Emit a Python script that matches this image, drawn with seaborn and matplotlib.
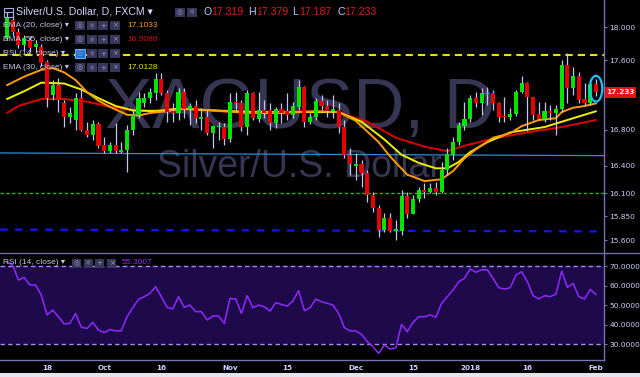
import numpy as np
import pandas as pd
import matplotlib
matplotlib.use("Agg")
import matplotlib.pyplot as plt
import seaborn as sns
from matplotlib.patches import Ellipse, Rectangle
from matplotlib.lines import Line2D
from matplotlib.ticker import FixedLocator, FixedFormatter, NullLocator

# ---------------- data (XAGUSD daily) ----------------
opens = [17.87, 18.09, 17.94, 17.78, 17.84, 17.76, 17.76, 17.58, 17.20, 17.31,
         17.10, 16.94, 16.91, 17.16, 16.80, 16.74, 16.87, 16.63, 16.56, 16.63,
         16.55, 16.57, 16.80, 16.97, 17.10, 17.16, 17.22, 17.38, 17.22, 17.01,
         16.99, 17.23, 17.04, 17.07, 16.92, 16.94, 16.76, 16.83, 16.83, 16.70,
         17.12, 17.10, 16.83, 17.22, 16.92, 17.02, 17.02, 16.88, 17.04, 17.01,
         16.97, 17.06, 17.29, 16.89, 16.94, 17.13, 17.07, 17.01, 17.02, 16.83,
         16.52, 16.40, 16.42, 16.32, 16.08, 15.94, 15.71, 15.83, 15.70, 15.70,
         16.07, 15.88, 16.04, 16.13, 16.11, 16.16, 16.11, 16.35, 16.52, 16.66,
         16.84, 16.92, 17.16, 17.10, 17.21, 17.22, 17.11, 16.96, 16.94, 16.98,
         17.23, 17.33, 17.17, 16.98, 16.92, 17.01, 16.99, 17.04, 17.55, 17.28,
         17.42, 17.15, 17.10, 17.319]
highs = [18.18, 18.15, 17.99, 17.90, 17.89, 17.84, 17.80, 17.61, 17.37, 17.39,
         17.14, 17.06, 17.22, 17.28, 16.89, 16.91, 16.89, 16.72, 16.66, 16.88,
         16.66, 16.85, 17.02, 17.23, 17.22, 17.28, 17.45, 17.45, 17.25, 17.10,
         17.28, 17.28, 17.10, 17.14, 17.05, 17.02, 16.85, 16.89, 16.88, 17.22,
         17.23, 17.14, 17.25, 17.23, 17.23, 17.14, 17.10, 17.06, 17.10, 17.22,
         17.12, 17.37, 17.30, 16.99, 17.16, 17.20, 17.14, 17.20, 17.10, 16.91,
         16.60, 16.54, 16.46, 16.35, 16.11, 15.97, 15.89, 15.89, 15.81, 16.13,
         16.11, 16.08, 16.17, 16.21, 16.21, 16.22, 16.44, 16.60, 16.72, 16.89,
         17.12, 17.20, 17.23, 17.28, 17.29, 17.25, 17.12, 17.17, 17.05, 17.25,
         17.42, 17.35, 17.17, 17.12, 17.12, 17.08, 17.08, 17.61, 17.69, 17.52,
         17.46, 17.34, 17.37, 17.379]
lows = [17.84, 17.89, 17.75, 17.72, 17.70, 17.70, 17.53, 17.06, 17.14, 17.00,
        16.83, 16.88, 16.80, 16.78, 16.72, 16.69, 16.60, 16.54, 16.54, 16.54,
        16.54, 16.33, 16.74, 16.93, 17.06, 17.10, 17.14, 17.20, 16.89, 16.89,
        16.91, 16.93, 16.85, 16.88, 16.80, 16.74, 16.60, 16.69, 16.63, 16.66,
        17.02, 16.78, 16.74, 16.91, 16.89, 16.93, 16.80, 16.82, 16.88, 16.91,
        16.93, 17.02, 16.83, 16.87, 16.91, 17.02, 16.94, 16.93, 16.76, 16.48,
        16.30, 16.24, 16.17, 16.00, 15.90, 15.63, 15.68, 15.68, 15.60, 15.65,
        15.83, 15.87, 16.00, 16.05, 16.10, 16.08, 16.10, 16.30, 16.46, 16.63,
        16.80, 16.89, 17.06, 16.97, 17.08, 17.02, 16.89, 16.89, 16.91, 16.96,
        17.22, 16.78, 16.91, 16.91, 16.89, 16.91, 16.74, 17.00, 17.10, 17.20,
        17.10, 17.08, 17.08, 17.187]
closes = [18.11, 17.94, 17.78, 17.87, 17.75, 17.80, 17.57, 17.16, 17.31, 17.14,
          16.94, 16.99, 17.16, 16.80, 16.74, 16.87, 16.62, 16.56, 16.63, 16.56,
          16.57, 16.80, 16.97, 17.16, 17.16, 17.23, 17.38, 17.22, 17.00, 16.99,
          17.23, 17.04, 17.07, 16.93, 16.94, 16.76, 16.84, 16.84, 16.70, 17.12,
          17.10, 16.83, 17.22, 16.93, 17.02, 16.99, 16.88, 17.04, 16.99, 16.97,
          17.07, 17.29, 16.89, 16.94, 17.13, 17.07, 17.01, 17.04, 16.83, 16.52,
          16.42, 16.42, 16.32, 16.08, 15.94, 15.71, 15.83, 15.69, 15.72, 16.07,
          15.88, 16.04, 16.13, 16.11, 16.16, 16.11, 16.35, 16.53, 16.66, 16.85,
          16.92, 17.16, 17.10, 17.22, 17.22, 17.10, 16.94, 16.94, 16.98, 17.23,
          17.33, 17.17, 16.97, 16.92, 17.01, 16.99, 17.04, 17.55, 17.28, 17.42,
          17.14, 17.10, 17.32, 17.233]

rsi_vals = [72.0, 70.5, 62.8, 64.2, 60.3, 60.3, 55.1, 44.9, 47.4, 44.0,
            40.3, 40.6, 45.7, 38.6, 38.0, 41.1, 37.2, 35.8, 37.5, 36.7,
            36.8, 44.0, 48.6, 52.9, 54.3, 56.0, 59.4, 54.3, 48.8, 48.0,
            54.3, 48.8, 50.0, 46.6, 46.6, 42.3, 44.4, 44.4, 40.6, 53.4,
            53.1, 45.7, 54.8, 48.6, 50.0, 49.1, 46.9, 51.2, 50.3, 49.5,
            52.1, 57.4, 47.1, 48.6, 53.0, 51.7, 50.9, 50.0, 45.7, 38.4,
            36.7, 36.7, 35.0, 31.2, 28.6, 25.2, 29.5, 27.4, 28.1, 40.1,
            36.3, 41.1, 44.0, 44.0, 44.9, 43.7, 50.9, 54.3, 57.7, 62.0,
            63.7, 68.5, 66.8, 68.1, 68.1, 63.7, 58.9, 58.2, 58.9, 65.4,
            67.1, 62.0, 54.8, 53.1, 54.8, 54.3, 55.6, 67.4, 59.1, 61.1,
            54.3, 53.1, 58.0, 55.3]

ema20_idx = [0, 3, 6, 8, 10, 12, 14, 16, 18, 21, 23, 25, 28, 31, 36, 42, 48, 54, 58,
             61, 63, 65, 67, 70, 73, 76, 78, 80, 82, 85, 88, 90, 93, 96, 97, 99, 101, 103]
ema20_vals = [17.31, 17.41, 17.49, 17.51, 17.46, 17.37, 17.23, 17.13, 17.06, 16.97,
              16.96, 16.99, 17.01, 17.04, 17.02, 16.99, 16.99, 17.01, 17.00, 16.90,
              16.78, 16.66, 16.50, 16.30, 16.23, 16.25, 16.34, 16.48, 16.58, 16.71,
              16.76, 16.84, 16.91, 16.93, 17.00, 17.05, 17.07, 17.10]
ema30_idx = [0, 3, 6, 10, 13, 16, 19, 22, 26, 30, 36, 44, 52, 58, 62, 66, 69, 72, 75,
             77, 79, 81, 84, 88, 91, 94, 97, 100, 103]
ema30_vals = [17.15, 17.24, 17.34, 17.33, 17.26, 17.16, 17.07, 17.02, 17.01, 17.04,
              17.02, 17.00, 17.00, 17.00, 16.89, 16.69, 16.52, 16.43, 16.37, 16.37,
              16.44, 16.55, 16.66, 16.77, 16.80, 16.83, 16.89, 16.95, 17.01]
ema55_idx = [0, 2, 6, 10, 14, 18, 22, 26, 30, 34, 40, 46, 52, 58, 63, 68, 73, 77, 80,
             85, 91, 97, 103]
ema55_vals = [16.99, 17.07, 17.15, 17.15, 17.12, 17.06, 17.02, 17.02, 17.04, 17.02,
              17.00, 17.00, 17.01, 17.00, 16.89, 16.71, 16.61, 16.56, 16.62, 16.70,
              16.77, 16.83, 16.91]

price_ticks = [18.0, 17.6, 16.8, 16.4, 16.1, 15.85, 15.6]
price_tick_labels = ["18.000", "17.600", "16.800", "16.400", "16.100", "15.850", "15.600"]
rsi_ticks = [70, 60, 50, 40, 30]
rsi_tick_labels = ["70.0000", "60.0000", "50.0000", "40.0000", "30.0000"]
date_tick_idx = [7, 17, 27, 39, 49, 61, 71, 81, 91, 103]
date_tick_labels = ["18", "Oct", "16", "Nov", "15", "Dec", "15", "2018", "16", "Feb"]

resistance_level = 17.66
support_green = 16.10
blue_line_ends = [16.54, 16.51]
blue_dash_ends = [15.71, 15.69]
last_o, last_h, last_l, last_c = 17.319, 17.379, 17.187, 17.233
ema20_last, ema55_last, ema30_last, rsi_last = "17.1033", "16.9088", "17.0128", "55.3007"

# ---------------- style ----------------
sns.set_theme(style="dark")
plt.rcParams["font.family"] = ["DejaVu Sans"]
plt.rcParams["axes.facecolor"] = "black"
plt.rcParams["figure.facecolor"] = "black"

W, H = 640, 377
fig = plt.figure(figsize=(6.4, 3.77), dpi=100)
fig.patch.set_facecolor("black")

def fx(px):
    return px / W

def fy(py):
    return 1 - py / H

ax = fig.add_axes([0, fy(252), fx(604), 252 / H])
axr = fig.add_axes([0, fy(360), fx(604), (360 - 253) / H])
XL, XR = -1.22, 104.4
AXC = "#7474b4"
LBL = "#d0d0ff"

df = pd.DataFrame({"i": np.arange(len(closes)), "open": opens, "high": highs,
                   "low": lows, "close": closes})
df["up"] = df["close"] >= df["open"]

# ---------------- main panel ----------------
ax.set_facecolor("black")
ax.set_yscale("log")
ax.set_xlim(XL, XR)
ax.set_ylim(15.475, 18.33)
ax.grid(False)

ax.text(fx(105), fy(128), "XAGUSD, D", transform=fig.transFigure, fontsize=51,
        color="#363652", family="Liberation Sans", va="baseline", ha="left", zorder=0.5)
ax.text(fx(157), fy(177), "Silver/U.S. Dollar", transform=fig.transFigure, fontsize=27,
        color="#363652", family="Liberation Sans", va="baseline", ha="left", zorder=0.5)

ax.axhline(resistance_level, color="#e4e400", lw=1.5, dashes=(3.5, 2.4), zorder=1)
ax.axhline(support_green, color="#22bb22", lw=1.0, dashes=(2.4, 1.8), zorder=1)
ax.plot([XL, XR], blue_line_ends, color="#2b8fd6", lw=0.9, zorder=1)
ax.plot([XL, XR], blue_dash_ends, color="#1414ff", lw=1.6, dashes=(3.4, 3.4), zorder=1)

sns.lineplot(x=ema55_idx, y=ema55_vals, ax=ax, color="#dd0000", lw=1.4, zorder=2)
sns.lineplot(x=ema30_idx, y=ema30_vals, ax=ax, color="#f0f000", lw=1.4, zorder=2)
sns.lineplot(x=ema20_idx, y=ema20_vals, ax=ax, color="#ff9a00", lw=1.4, zorder=2)

ax.vlines(df["i"], df["low"], df["high"], color="#c4c4f2", lw=0.9, zorder=3)
body_bottom = np.minimum(df["open"], df["close"])
body_h = np.maximum((df["close"] - df["open"]).abs(), 0.012)
ax.bar(df["i"], body_h, bottom=body_bottom, width=0.72,
       color=np.where(df["up"], "#00e400", "#e80000"), linewidth=0, zorder=4)

ax.add_patch(Ellipse((103, 17.27), width=2.2, height=0.30, fill=False,
                     edgecolor="#1ec0ff", lw=1.6, zorder=6))

ax.yaxis.tick_right()
ax.yaxis.set_major_locator(FixedLocator(price_ticks))
ax.yaxis.set_major_formatter(FixedFormatter(price_tick_labels))
ax.yaxis.set_minor_locator(NullLocator())
ax.tick_params(axis="y", which="major", direction="out", length=2.5, width=0.8,
               color=AXC, labelcolor=LBL, labelsize=5.4, pad=1.5, right=True, left=False)
ax.set_xticks([])
ax.set_xlabel("")
ax.set_ylabel("")
for s in ["top", "left", "bottom"]:
    ax.spines[s].set_visible(False)
ax.spines["right"].set_color(AXC)
ax.spines["right"].set_linewidth(1)

# ---------------- RSI panel ----------------
axr.set_facecolor("black")
axr.set_xlim(XL, XR)
axr.set_ylim(21.8, 76.7)
axr.grid(False)
axr.axhspan(30, 70, color="#1e0a4b", lw=0, zorder=0)
axr.axhline(70, color="#a48cff", lw=1.0, dashes=(3.2, 2.3), zorder=1)
axr.axhline(30, color="#a48cff", lw=1.0, dashes=(3.2, 2.3), zorder=1)
sns.lineplot(x=df["i"], y=rsi_vals, ax=axr, color="#9028ff", lw=1.1, zorder=3)

axr.yaxis.tick_right()
axr.set_yticks(rsi_ticks)
axr.set_yticklabels(rsi_tick_labels)
axr.set_xticks(date_tick_idx)
axr.set_xticklabels(date_tick_labels)
axr.tick_params(axis="y", direction="out", length=2.5, width=0.8, color=AXC,
                labelcolor=LBL, labelsize=5.4, pad=1.5, right=True, left=False)
axr.tick_params(axis="x", direction="out", length=2.5, width=0.8, color=AXC,
                labelcolor=LBL, labelsize=5.2, pad=1.2)
for t in axr.get_xticklabels():
    t.set_fontweight("bold")
axr.set_xlabel("")
axr.set_ylabel("")
for s in ["top", "left"]:
    axr.spines[s].set_visible(False)
for s in ["right", "bottom"]:
    axr.spines[s].set_color(AXC)
    axr.spines[s].set_linewidth(1)

# ---------------- figure decorations ----------------
fig.add_artist(Line2D([0, 1], [fy(252.5), fy(252.5)], color="#6c6ca8", lw=1,
                      transform=fig.transFigure))
fig.add_artist(Rectangle((0, 0), 1, 4 / H, transform=fig.transFigure,
                         fc="#e4e4ee", ec="none", zorder=5))

# last price label
fig.add_artist(Rectangle((fx(605), fy(97.5)), 31 / W, 11 / H, transform=fig.transFigure,
                         fc="#e41414", ec="none", zorder=8))
fig.text(fx(620.5), fy(92), f"{last_c:.3f}", ha="center", va="center", fontsize=5.3,
         fontweight="bold", color="#ffe8e8", zorder=9)

LEG = ["Liberation Sans", "DejaVu Sans"]

def ftext(px, py, s, **kw):
    kw.setdefault("va", "center")
    kw.setdefault("ha", "left")
    kw.setdefault("family", LEG)
    return fig.text(fx(px), fy(py), s, **kw)

def icon(px, pyc, glyph, w=10, h=9, fc="#37375a", ec="none"):
    fig.add_artist(Rectangle((fx(px), fy(pyc + h / 2)), w / W, h / H,
                             transform=fig.transFigure, fc=fc, ec=ec, lw=0.8, zorder=6))
    fig.text(fx(px + w / 2), fy(pyc), glyph, ha="center", va="center", fontsize=5,
             color="#9a9ac8", family=["DejaVu Sans"], zorder=7)

# title row
fig.add_artist(Rectangle((fx(3.5), fy(16.5)), 9 / W, 9 / H, transform=fig.transFigure,
                         fc="none", ec="#a8a8e0", lw=0.8, zorder=6))
fig.add_artist(Line2D([fx(3.5), fx(12.5)], [fy(12), fy(12)], color="#a8a8e0", lw=0.8,
                      transform=fig.transFigure, zorder=6))
ftext(16, 12, "Silver/U.S. Dollar, D, FXCM \u25be", fontsize=7.6, color="#d4d4ff", zorder=7)
icon(175, 12, "\u25ce")
icon(187, 12, "\u263c")
for lx, vx, letter, val in [(203, 211, "O", last_o), (248, 256, "H", last_h),
                            (292, 299, "L", last_l), (337, 344, "C", last_c)]:
    ftext(lx, 12, letter, fontsize=7.6, color="#c8c8ff", zorder=7)
    ftext(vx, 12, f"{val:.3f}", fontsize=7.6, color="#e41b1b", zorder=7)

rows = [(25.5, "EMA (20, close) \u25be", ema20_last, "#ff9a00", False),
        (39.5, "EMA (55, close) \u25be", ema55_last, "#cc1111", False),
        (53.5, "RSI (14, close) \u25be", None, None, True),
        (67.5, "EMA (30, close) \u25be", ema30_last, "#e8e800", False)]
for yc, label, val, col, hl in rows:
    ftext(3, yc, label, fontsize=6.0, color="#c8c8f0", zorder=7)
    for k, (gx, g) in enumerate(zip([75, 87, 98, 110], ["\u25ce", "\u263c", "+", "\u00d7"])):
        if hl and k == 0:
            icon(gx, yc, g, fc="#1e6fd0", ec="#5ab4ff")
        else:
            icon(gx, yc, g)
    if val is not None:
        ftext(127, yc, val, fontsize=6.0, color=col, zorder=7)

# RSI legend
ftext(3, 263, "RSI (14, close) \u25be", fontsize=6.0, color="#c8c8f0", zorder=7)
for gx, g in zip([72, 83.5, 95, 107], ["\u25ce", "\u263c", "+", "\u00d7"]):
    icon(gx, 263, g, w=9)
ftext(122, 263, rsi_last, fontsize=6.0, color="#9a30ff", zorder=7)

fig.savefig("out.png", dpi=100, facecolor="black")
